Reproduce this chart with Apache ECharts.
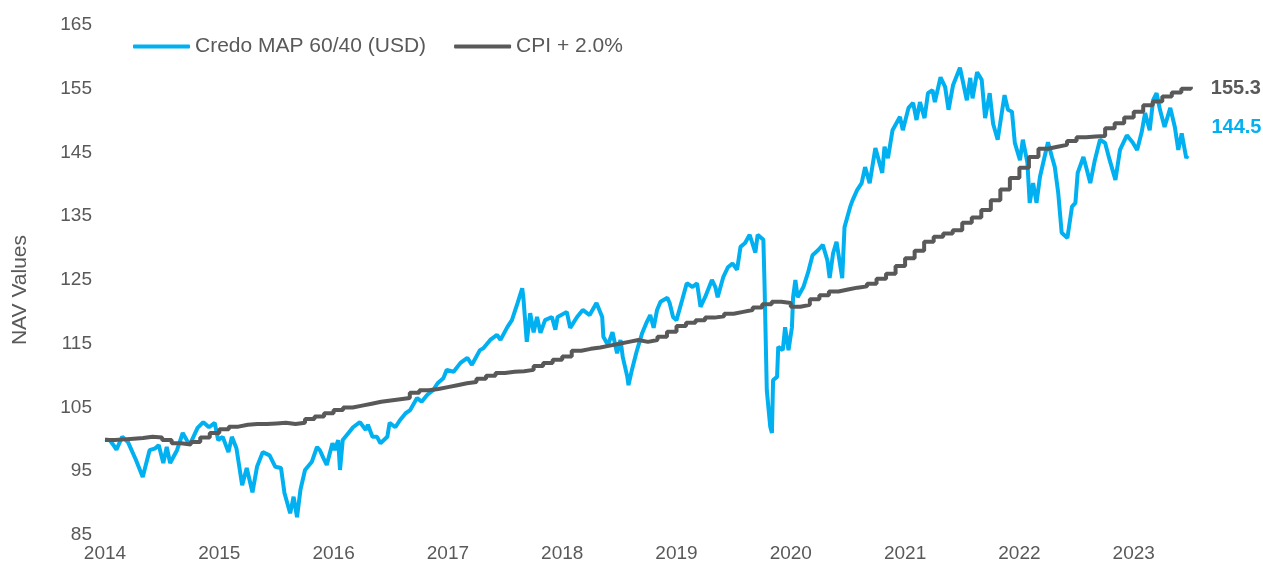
<!DOCTYPE html>
<html>
<head>
<meta charset="utf-8">
<title>NAV Values</title>
<script src="https://cdn.jsdelivr.net/npm/echarts@6/dist/echarts.min.js"></script>
<style>
  html, body { margin: 0; padding: 0; background: #fff; }
  #chart { width: 1263px; height: 570px; }
</style>
</head>
<body>
<div id="chart"></div>
<script>
// Credo MAP 60/40 (USD) as (decimal year, value)
const navYears = [
  2014.00, 2014.04, 2014.07, 2014.10, 2014.15, 2014.20, 2014.27, 2014.33, 2014.39, 2014.44,
  2014.47, 2014.51, 2014.54, 2014.57, 2014.63, 2014.68, 2014.74, 2014.81, 2014.86, 2014.91,
  2014.96, 2014.99, 2015.03, 2015.08, 2015.11, 2015.15, 2015.20, 2015.24, 2015.29, 2015.33,
  2015.38, 2015.44, 2015.49, 2015.54, 2015.57, 2015.62, 2015.65, 2015.68, 2015.71, 2015.75,
  2015.81, 2015.855, 2015.88, 2015.91, 2015.94, 2015.99, 2016.01, 2016.04, 2016.056, 2016.08,
  2016.13, 2016.17, 2016.23, 2016.28, 2016.30, 2016.34, 2016.38, 2016.41, 2016.47, 2016.49,
  2016.54, 2016.58, 2016.63, 2016.67, 2016.73, 2016.77, 2016.82, 2016.87, 2016.91, 2016.96,
  2016.99, 2017.05, 2017.11, 2017.17, 2017.21, 2017.28, 2017.31, 2017.37, 2017.43, 2017.46,
  2017.52, 2017.56, 2017.61, 2017.65, 2017.66, 2017.69, 2017.72, 2017.75, 2017.78, 2017.81,
  2017.85, 2017.91, 2017.94, 2017.96, 2018.04, 2018.07, 2018.13, 2018.18, 2018.24, 2018.30,
  2018.35, 2018.36, 2018.40, 2018.44, 2018.48, 2018.51, 2018.53, 2018.57, 2018.58, 2018.61,
  2018.65, 2018.70, 2018.74, 2018.77, 2018.80, 2018.83, 2018.86, 2018.92, 2018.94, 2018.97,
  2019.00, 2019.05, 2019.09, 2019.14, 2019.18, 2019.21, 2019.25, 2019.31, 2019.34, 2019.36,
  2019.41, 2019.45, 2019.49, 2019.53, 2019.56, 2019.60, 2019.64, 2019.69, 2019.71, 2019.76,
  2019.77, 2019.79, 2019.82, 2019.835, 2019.845, 2019.88, 2019.89, 2019.93, 2019.95, 2019.98,
  2020.01, 2020.02, 2020.04, 2020.06, 2020.11, 2020.15, 2020.19, 2020.24, 2020.28, 2020.32,
  2020.34, 2020.37, 2020.40, 2020.45, 2020.47, 2020.52, 2020.54, 2020.58, 2020.62, 2020.65,
  2020.69, 2020.74, 2020.80, 2020.82, 2020.85, 2020.89, 2020.955, 2020.98, 2021.03, 2021.07,
  2021.10, 2021.13, 2021.17, 2021.20, 2021.24, 2021.26, 2021.31, 2021.35, 2021.38, 2021.42,
  2021.48, 2021.54, 2021.57, 2021.59, 2021.63, 2021.67, 2021.70, 2021.74, 2021.77, 2021.81,
  2021.85, 2021.87, 2021.90, 2021.935, 2021.96, 2022.005, 2022.03, 2022.07, 2022.09, 2022.12,
  2022.15, 2022.18, 2022.22, 2022.25, 2022.285, 2022.31, 2022.34, 2022.37, 2022.42, 2022.46,
  2022.49, 2022.51, 2022.56, 2022.59, 2022.62, 2022.66, 2022.705, 2022.75, 2022.79, 2022.84,
  2022.88, 2022.94, 2022.99, 2023.03, 2023.07, 2023.10, 2023.14, 2023.17, 2023.20, 2023.23,
  2023.27, 2023.32, 2023.36, 2023.39, 2023.42, 2023.46, 2023.47
];
const navValues = [
  100.0, 99.9, 99.2, 98.4, 100.4, 99.6, 96.8, 94.1, 98.3, 98.6,
  99.1, 96.3, 98.8, 96.3, 98.3, 101.0, 99.1, 101.8, 102.7, 101.9,
  102.6, 99.9, 100.4, 98.0, 100.4, 98.6, 92.8, 95.5, 91.7, 95.7,
  98.0, 97.5, 95.7, 95.5, 91.6, 88.4, 91.0, 87.8, 92.1, 95.2,
  96.5, 98.8, 98.3, 97.1, 96.0, 99.4, 98.3, 99.9, 95.2, 99.9,
  101.0, 101.9, 102.7, 101.5, 102.3, 100.4, 100.4, 99.4, 100.4, 102.6,
  101.9, 103.0, 104.1, 104.6, 106.5, 105.9, 107.0, 107.7, 108.8, 109.6,
  110.9, 110.6, 112.0, 112.8, 111.7, 114.0, 114.3, 115.6, 116.4, 115.6,
  117.6, 118.7, 121.4, 123.7, 122.3, 115.3, 119.8, 116.8, 119.2, 116.7,
  118.7, 119.2, 117.2, 119.2, 120.0, 117.5, 119.2, 120.3, 119.5, 121.4,
  119.2, 116.1, 114.8, 116.8, 113.5, 115.6, 112.9, 109.8, 108.5, 110.9,
  113.7, 116.7, 118.4, 119.5, 117.5, 120.3, 121.6, 122.2, 121.4, 119.2,
  118.7, 121.9, 124.5, 123.9, 124.5, 120.8, 122.3, 125.0, 123.9, 122.3,
  125.5, 127.0, 127.6, 126.6, 130.2, 130.8, 132.1, 129.3, 132.1, 131.3,
  124.5, 107.7, 102.0, 101.0, 109.3, 109.8, 114.5, 114.0, 117.6, 114.0,
  117.6, 122.3, 125.0, 122.3, 123.9, 126.1, 128.9, 129.7, 130.5, 128.1,
  125.3, 129.2, 131.0, 125.3, 133.3, 136.5, 137.5, 139.1, 140.2, 142.7,
  140.2, 145.7, 141.8, 145.9, 144.1, 148.5, 150.6, 148.5, 152.0, 152.8,
  150.1, 152.9, 150.4, 154.3, 154.8, 152.9, 156.8, 155.3, 151.7, 155.6,
  158.3, 153.2, 156.7, 153.5, 157.6, 156.4, 150.4, 154.3, 149.5, 147.0,
  151.7, 154.0, 151.7, 151.4, 146.5, 143.8, 147.0, 143.4, 137.1, 140.2,
  137.1, 141.2, 144.3, 146.6, 144.3, 142.7, 138.6, 132.4, 131.6, 136.5,
  137.1, 141.8, 144.3, 142.3, 140.2, 143.8, 147.0, 146.5, 143.8, 140.7,
  145.4, 147.7, 146.6, 145.4, 148.2, 151.2, 148.5, 153.2, 154.3, 151.7,
  149.0, 152.0, 149.0, 145.4, 148.0, 144.1, 144.5
];

// CPI + 2.0%, one value per month from January 2014
const cpiStart = 2014;
const cpiValues = [
  99.9, 100.0, 100.1, 100.2, 100.4, 100.3, 99.9, 99.4, 99.2, 99.6, 100.3, 101.0,
  101.6, 102.0, 102.3, 102.4, 102.4, 102.5, 102.6, 102.4, 102.6, 103.2, 103.6, 104.1,
  104.6, 105.0, 105.3, 105.6, 105.9, 106.1, 106.3, 106.5, 107.3, 107.7, 107.9, 108.2,
  108.5, 108.8, 109.0, 109.5, 110.0, 110.4, 110.6, 110.7, 110.9, 111.5, 112.0, 112.5,
  113.0, 113.9, 114.2, 114.4, 114.7, 115.0, 115.3, 115.6, 115.3, 115.6, 116.1, 116.9,
  117.8, 118.3, 118.7, 119.1, 119.3, 119.7, 120.0, 120.3, 120.7, 121.2, 121.6, 121.4,
  120.8, 121.1, 122.0, 122.6, 123.2, 123.5, 123.8, 124.0, 124.4, 125.2, 126.0, 127.2,
  128.4, 129.6, 131.0, 131.8, 132.3, 132.8, 134.0, 134.8, 136.0, 137.5, 139.2, 141.0,
  142.6, 144.3, 145.6, 145.9, 146.2, 146.8, 147.4, 147.5, 147.6, 148.8, 149.6, 150.5,
  151.4, 152.4, 153.0, 153.8, 154.4, 155.0, 155.3
];

const seriesNames = ["Credo MAP 60/40 (USD)", "CPI + 2.0%"];
const seriesColors = ["#00b0f0", "#595959"];

(function () {
  const chart = echarts.init(document.getElementById("chart"));
  const font = "'Liberation Sans', Arial, sans-serif";

  const navData = navYears.map(function (y, i) {
    return [y, navValues[i]];
  });
  const cpiData = cpiValues.map(function (v, i) {
    return [cpiStart + i / 12, v];
  });

  const endLabel = function (color, offset) {
    return {
      show: true,
      offset: offset,
      color: color,
      fontSize: 20,
      fontWeight: "bold",
      fontFamily: font,
      formatter: function (p) {
        return p.value[1].toFixed(1);
      },
    };
  };

  const option = {
    animation: false,
    color: seriesColors,
    textStyle: { fontFamily: font },
    grid: { left: 105, right: 15, top: 25, bottom: 35 },
    legend: {
      left: 128,
      top: 31,
      itemWidth: 57,
      itemHeight: 4,
      itemGap: 28,
      icon: "roundRect",
      textStyle: { color: "#595959", fontSize: 21, fontFamily: font },
      data: seriesNames,
    },
    xAxis: {
      type: "value",
      min: 2014,
      max: 2024,
      interval: 1,
      axisLine: { show: false },
      axisTick: { show: false },
      splitLine: { show: false },
      axisLabel: {
        color: "#595959",
        fontSize: 19,
        margin: 9,
        showMaxLabel: false,
        formatter: function (v) {
          return v >= 2024 ? "" : String(v);
        },
      },
    },
    yAxis: {
      type: "value",
      min: 85,
      max: 165,
      interval: 10,
      name: "NAV Values",
      nameLocation: "middle",
      nameGap: 74,
      nameTextStyle: {
        color: "#595959",
        fontSize: 21,
        fontFamily: font,
        padding: [0, 20, 0, 0],
      },
      axisLine: { show: false },
      axisTick: { show: false },
      splitLine: { show: false },
      axisLabel: { color: "#595959", fontSize: 19, margin: 13 },
    },
    series: [
      {
        name: seriesNames[0],
        type: "line",
        data: navData,
        showSymbol: false,
        symbol: "none",
        lineStyle: { width: 4, color: seriesColors[0] },
        endLabel: endLabel(seriesColors[0], [16, -28]),
      },
      {
        name: seriesNames[1],
        type: "line",
        step: "end",
        data: cpiData,
        showSymbol: false,
        symbol: "none",
        lineStyle: { width: 4, color: seriesColors[1] },
        endLabel: endLabel(seriesColors[1], [12, 2]),
      },
    ],
  };
  chart.setOption(option);

  window.addEventListener("resize", function () {
    chart.resize();
  });
})();
</script>
</body>
</html>
